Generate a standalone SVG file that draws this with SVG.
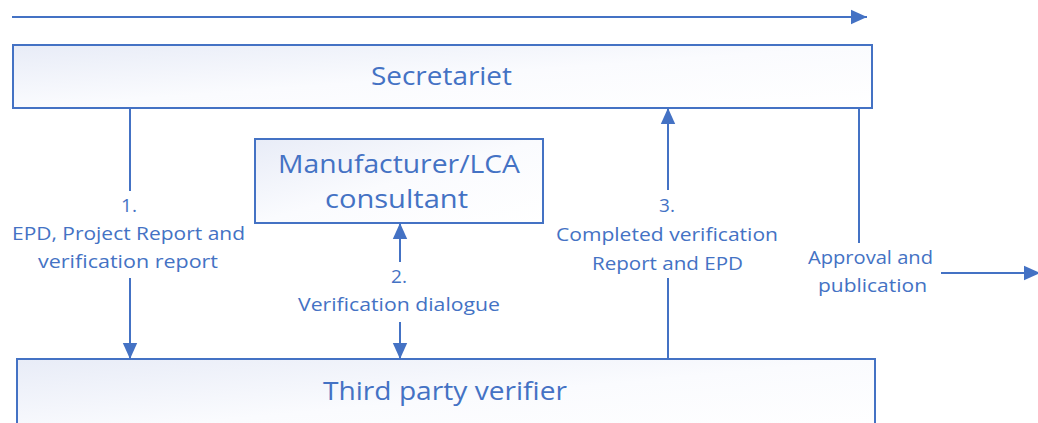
<svg xmlns="http://www.w3.org/2000/svg" width="1038" height="423" viewBox="0 0 1038 423">
<style>
.box{stroke:#4472C4;stroke-width:2;fill:url(#g)}
.ln{stroke:#4472C4;stroke-width:2;fill:none}
.t{font-family:"Open Sans","Noto Sans",sans-serif;fill:#4472C4;text-anchor:middle}
.big{font-size:25px}
.sm{font-size:19px}
</style>
<defs>
<linearGradient id="g" x1="0" y1="0" x2="1" y2="1">
<stop offset="0" stop-color="#e8ecf7"/>
<stop offset="0.5" stop-color="#fafbfe"/>
<stop offset="1" stop-color="#ffffff"/>
</linearGradient>
<marker id="ah" viewBox="0 0 10 10" refX="10" refY="5" markerWidth="8" markerHeight="8" markerUnits="strokeWidth" orient="auto">
<path d="M0,0.5 L10,5 L0,9.5 z" fill="#4472C4"/>
</marker>
</defs>
<g id="secretariet">
<rect class="box" x="13" y="45" width="859" height="63"/>
<text class="t big" x="441.5" y="84.5" textLength="141" lengthAdjust="spacingAndGlyphs">Secretariet</text>
</g>
<g id="manufacturer">
<rect class="box" x="255" y="139" width="288" height="84"/>
<text class="t big" x="399" y="173" textLength="242" lengthAdjust="spacingAndGlyphs">Manufacturer/LCA</text>
<text class="t big" x="396.5" y="208" textLength="143" lengthAdjust="spacingAndGlyphs">consultant</text>
</g>
<g id="verifier">
<rect class="box" x="17" y="359" width="858" height="80"/>
<text class="t big" x="445" y="400" textLength="244" lengthAdjust="spacingAndGlyphs">Third party verifier</text>
</g>
<g id="connectors">
<line class="ln" x1="12" y1="17" x2="867" y2="17" marker-end="url(#ah)"/>
<line class="ln" x1="130" y1="108" x2="130" y2="191"/>
<line class="ln" x1="130" y1="278" x2="130" y2="359" marker-end="url(#ah)"/>
<line class="ln" x1="400" y1="262" x2="400" y2="223" marker-end="url(#ah)"/>
<line class="ln" x1="400" y1="322" x2="400" y2="359" marker-end="url(#ah)"/>
<line class="ln" x1="668" y1="190" x2="668" y2="108" marker-end="url(#ah)"/>
<line class="ln" x1="668" y1="278" x2="668" y2="359"/>
<line class="ln" x1="859" y1="108" x2="859" y2="243"/>
<line class="ln" x1="941" y1="273" x2="1040" y2="273" marker-end="url(#ah)"/>
</g>
<g id="labels">
<text class="t sm" x="129" y="212">1.</text>
<text class="t sm" x="128.5" y="240" textLength="233" lengthAdjust="spacingAndGlyphs">EPD, Project Report and</text>
<text class="t sm" x="128" y="268" textLength="180" lengthAdjust="spacingAndGlyphs">verification report</text>
<text class="t sm" x="399" y="283">2.</text>
<text class="t sm" x="399" y="311" textLength="202" lengthAdjust="spacingAndGlyphs">Verification dialogue</text>
<text class="t sm" x="667" y="212">3.</text>
<text class="t sm" x="667" y="241" textLength="222" lengthAdjust="spacingAndGlyphs">Completed verification</text>
<text class="t sm" x="667.5" y="270" textLength="151" lengthAdjust="spacingAndGlyphs">Report and EPD</text>
<text class="t sm" x="870.5" y="264" textLength="125" lengthAdjust="spacingAndGlyphs">Approval and</text>
<text class="t sm" x="872.5" y="292" textLength="109" lengthAdjust="spacingAndGlyphs">publication</text>
</g>
</svg>
